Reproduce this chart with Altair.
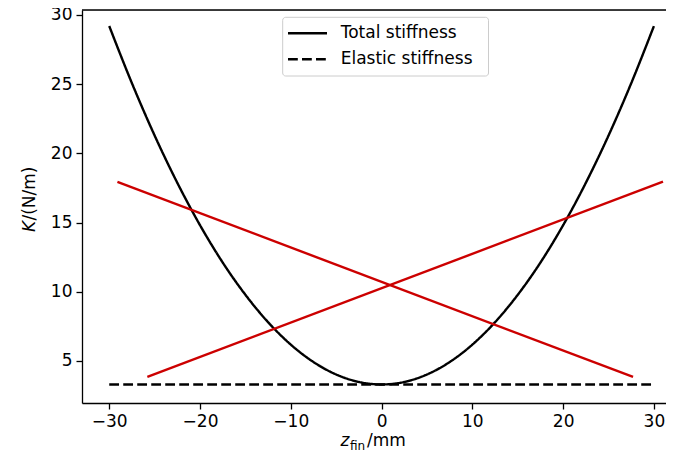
import altair as alt
import pandas as pd

# ---- values ----
z_total = [-30, -27.5, -25, -22.5, -20, -17.5, -15, -12.5, -10, -7.5, -5, -2.5, 0,
           2.5, 5, 7.5, 10, 12.5, 15, 17.5, 20, 22.5, 25, 27.5, 30]
k_total = [29.20, 25.07, 21.29, 17.87, 14.81, 12.11, 9.78, 7.80, 6.18, 4.92, 4.02, 3.48, 3.30,
           3.48, 4.02, 4.92, 6.18, 7.80, 9.78, 12.11, 14.81, 17.87, 21.29, 25.07, 29.20]
z_elastic = [-30, 30]
k_elastic = [3.3, 3.3]
z_red_a = [-29.1, 27.7]
k_red_a = [17.94, 3.84]
z_red_b = [-25.8, 31.0]
k_red_b = [3.84, 17.96]
series_names = ["Total stiffness", "Elastic stiffness"]
x_ticks = [-30, -20, -10, 0, 10, 20, 30]
y_ticks = [5, 10, 15, 20, 25, 30]

W, H = 584, 393
FONT = "DejaVu Sans"
FS = 17

df_stiff = pd.concat([
    pd.DataFrame({"z": z_total, "K": k_total, "series": series_names[0]}),
    pd.DataFrame({"z": z_elastic, "K": k_elastic, "series": series_names[1]}),
])
df_red = pd.concat([
    pd.DataFrame({"z": z_red_a, "K": k_red_a, "line": "a"}),
    pd.DataFrame({"z": z_red_b, "K": k_red_b, "line": "b"}),
])

axis_common = dict(title=None, grid=False, domainColor="black", domainWidth=1.3,
                   tickColor="black", tickWidth=1.3, tickSize=6,
                   labelFont=FONT, labelFontSize=FS, labelColor="black",
                   labelPadding=4, labelFlush=False, labelOverlap=False)

x_enc = alt.X("z:Q", scale=alt.Scale(domain=[-33, 31.33], nice=False, zero=False),
              axis=alt.Axis(values=x_ticks, format="d", **axis_common))
y_enc = alt.Y("K:Q", scale=alt.Scale(domain=[1.96, 30.36], nice=False, zero=False),
              axis=alt.Axis(values=y_ticks, format="d", **axis_common))

stiff = alt.Chart(df_stiff).mark_line(color="black", strokeWidth=2.4, interpolate="monotone").encode(
    x=x_enc, y=y_enc,
    strokeDash=alt.StrokeDash("series:N",
                              scale=alt.Scale(domain=series_names, range=[[1, 0], [9.8, 4.2]]),
                              legend=None),
)

red = alt.Chart(df_red).mark_line(color="#cc0000", strokeWidth=2.4).encode(
    x="z:Q", y="K:Q", detail="line:N"
)

one = pd.DataFrame({"a": [0]})

top_spine = alt.Chart(one).mark_rule(color="black", strokeWidth=1.3).encode(
    x=alt.value(0), x2=alt.value(W), y=alt.value(0)
)

# legend (drawn by hand, matplotlib style)
leg_box = alt.Chart(one).mark_rect(fill="white", stroke="#cccccc", strokeWidth=1, cornerRadius=3).encode(
    x=alt.value(200.7), x2=alt.value(406.5), y=alt.value(7.3), y2=alt.value(66)
)
leg_solid = alt.Chart(one).mark_rule(color="black", strokeWidth=2.4).encode(
    x=alt.value(206), x2=alt.value(245), y=alt.value(23.3)
)
leg_dash = alt.Chart(one).mark_rule(color="black", strokeWidth=2.4, strokeDash=[9.8, 4.2]).encode(
    x=alt.value(206), x2=alt.value(245), y=alt.value(49.3)
)
leg_t1 = alt.Chart(pd.DataFrame({"t": [series_names[0]]})).mark_text(
    font=FONT, fontSize=FS, align="left", baseline="middle", color="black").encode(
    text="t:N", x=alt.value(258.7), y=alt.value(23.3))
leg_t2 = alt.Chart(pd.DataFrame({"t": [series_names[1]]})).mark_text(
    font=FONT, fontSize=FS, align="left", baseline="middle", color="black").encode(
    text="t:N", x=alt.value(258.7), y=alt.value(49.3))

# x axis title: z_fin/mm
xt_z = alt.Chart(pd.DataFrame({"t": ["z"]})).mark_text(
    font=FONT, fontSize=FS, fontStyle="italic", align="left", baseline="alphabetic", color="black").encode(
    text="t:N", x=alt.value(258.5), y=alt.value(436))
xt_fin = alt.Chart(pd.DataFrame({"t": ["fin"]})).mark_text(
    font=FONT, fontSize=12, align="left", baseline="alphabetic", color="black").encode(
    text="t:N", x=alt.value(268), y=alt.value(439.5))
xt_mm = alt.Chart(pd.DataFrame({"t": ["/mm"]})).mark_text(
    font=FONT, fontSize=FS, align="left", baseline="alphabetic", color="black").encode(
    text="t:N", x=alt.value(285), y=alt.value(436))

# y axis title: K/(N/m)
yt_k = alt.Chart(pd.DataFrame({"t": ["K"]})).mark_text(
    font=FONT, fontSize=FS, fontStyle="italic", align="left", baseline="alphabetic",
    angle=270, color="black").encode(
    text="t:N", x=alt.value(-47), y=alt.value(222))
yt_rest = alt.Chart(pd.DataFrame({"t": ["/(N/m)"]})).mark_text(
    font=FONT, fontSize=FS, align="left", baseline="alphabetic",
    angle=270, color="black").encode(
    text="t:N", x=alt.value(-47), y=alt.value(210.5))

chart = alt.layer(
    stiff, red, top_spine, leg_box, leg_solid, leg_dash, leg_t1, leg_t2,
    xt_z, xt_fin, xt_mm, yt_k, yt_rest
).properties(
    width=W, height=H,
    autosize=alt.AutoSizeParams(type="none"),
    padding={"left": 74, "top": 2, "right": 0, "bottom": 48},
).configure_view(strokeWidth=0).configure(font=FONT)

chart.save("out.html", embed_options={"renderer": "svg", "actions": False})
